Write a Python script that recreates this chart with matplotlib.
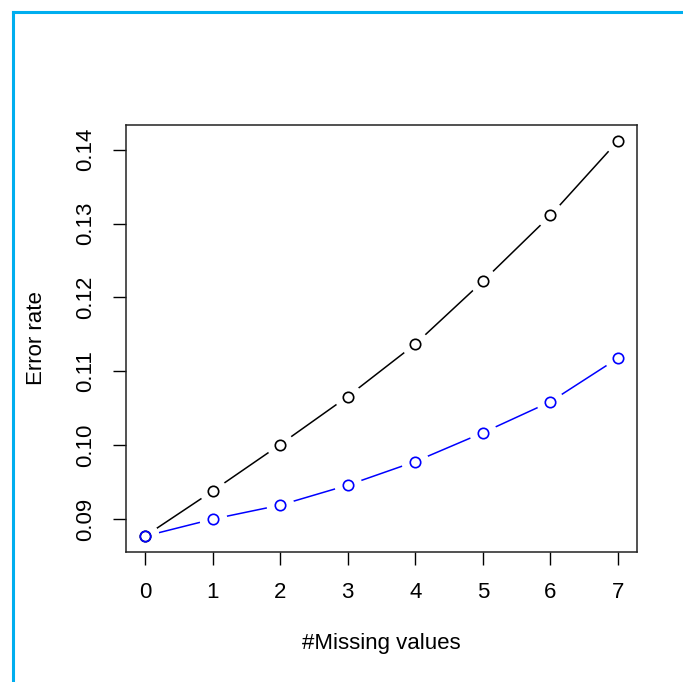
import matplotlib
matplotlib.use("Agg")
import matplotlib.pyplot as plt
from matplotlib.lines import Line2D

missing = [0, 1, 2, 3, 4, 5, 6, 7]
err_black = [0.0877, 0.0938, 0.1001, 0.1066, 0.1137, 0.1222, 0.1311, 0.1412]
err_blue = [0.0877, 0.0900, 0.0919, 0.0946, 0.0978, 0.1017, 0.1059, 0.1118]
xticks = [0, 1, 2, 3, 4, 5, 6, 7]
yticks = [0.09, 0.10, 0.11, 0.12, 0.13, 0.14]
ytick_labels = ["0.09", "0.10", "0.11", "0.12", "0.13", "0.14"]

plt.rcParams['font.family'] = ['Liberation Sans', 'DejaVu Sans']
W, H = 683, 682
fig = plt.figure(figsize=(W / 100, H / 100), dpi=100)
ax = fig.add_axes([126 / W, 1 - 552 / H, (637 - 126) / W, (552 - 125) / H])

ax.plot(missing, err_black, color='black', lw=1.1, zorder=2)
ax.plot(missing, err_blue, color='blue', lw=1.1, zorder=2)
# gaps around points (R type="b")
ax.plot(missing, err_black, ls='none', marker='o', ms=20, mfc='white', mec='none', zorder=3)
ax.plot(missing, err_blue, ls='none', marker='o', ms=20, mfc='white', mec='none', zorder=3)
ax.plot(missing, err_black, ls='none', marker='o', ms=7.5, mfc='none', mec='black', mew=1.2, zorder=4)
ax.plot(missing, err_blue, ls='none', marker='o', ms=7.5, mfc='none', mec='blue', mew=1.2, zorder=5)

ax.set_xlim(-0.28, 7.28)
ymin = min(err_blue)
ymax = max(err_black)
pad = (ymax - ymin) * 0.04
ax.set_ylim(ymin - pad, ymax + pad)

ax.set_xticks(xticks)
ax.set_xticklabels([str(v) for v in xticks], fontsize=16)
ax.set_yticks(yticks)
ax.set_yticklabels(ytick_labels, fontsize=16, rotation=90, va='center')
ax.tick_params(direction='out', length=9.5, width=1, pad=12, color='black')
for s in ax.spines.values():
    s.set_linewidth(1.1)
    s.set_color('#222222')

ax.set_xlabel('#Missing values', fontsize=16, labelpad=22)
ax.set_ylabel('Error rate', fontsize=16, labelpad=20)

bc = '#00AEEF'
fig.add_artist(Line2D([12.5 / W, 1], [1 - 11.5 / H, 1 - 11.5 / H], color=bc, lw=2.2, transform=fig.transFigure))
fig.add_artist(Line2D([12.5 / W, 12.5 / W], [0, 1 - 11.5 / H], color=bc, lw=2.2, transform=fig.transFigure))

fig.savefig('out.png', dpi=100)
